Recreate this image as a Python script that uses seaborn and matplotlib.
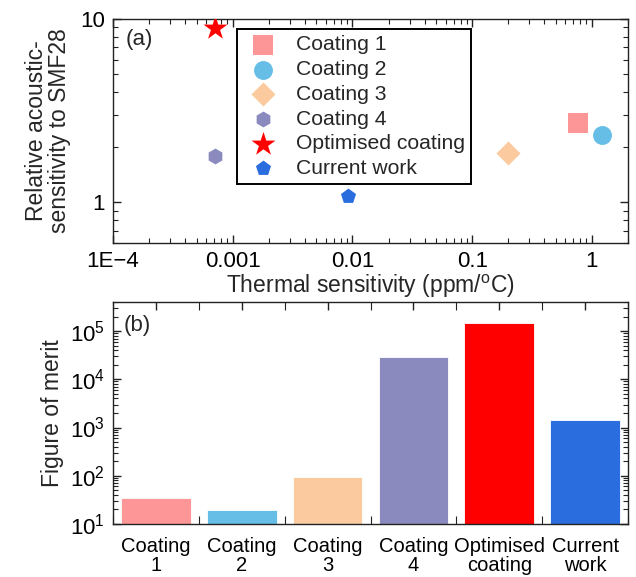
import matplotlib
matplotlib.use("Agg")
import matplotlib.pyplot as plt
import seaborn as sns
import pandas as pd
import numpy as np
from matplotlib.ticker import LogLocator, NullFormatter, FixedLocator

sns.set_theme(style="ticks")
plt.rcParams['font.family'] = ['Liberation Sans', 'DejaVu Sans']
plt.rcParams['mathtext.fontset'] = 'custom'
plt.rcParams['mathtext.rm'] = 'Liberation Sans'
plt.rcParams['mathtext.it'] = 'Liberation Sans:italic'
plt.rcParams['mathtext.default'] = 'regular'
edge = "#222222"

# ---- data ----
names = ["Coating 1", "Coating 2", "Coating 3", "Coating 4", "Optimised coating", "Current work"]
bar_labels = ["Coating\n1", "Coating\n2", "Coating\n3", "Coating\n4", "Optimised\ncoating", "Current\nwork"]
thermal = [0.76, 1.21, 0.20, 0.00071, 0.00071, 0.0091]
acoustic = [2.7, 2.32, 1.85, 1.78, 8.9, 1.08]
merit = [35, 19.5, 94, 2.9e4, 1.48e5, 1430]
colors = ["#FC9697", "#66BEE6", "#FBCB9F", "#8A8ABF", "#FF0000", "#2A6DDE"]
markers = ["s", "o", "D", "h", "*", "p"]
msizes = [190, 185, 150, 130, 330, 130]

df = pd.DataFrame({"name": names, "x": thermal, "y": acoustic, "merit": merit, "lab": bar_labels})

fig = plt.figure(figsize=(6.36, 5.77), dpi=100)
W, H = 636, 577
ax1 = fig.add_axes([113 / W, 1 - 243 / H, 515 / W, 224 / H])
ax2 = fig.add_axes([113 / W, 1 - 524 / H, 515 / W, 222 / H])

FS_LAB = 16.5
FS_TICK = 16
FS_LEG = 15.2
FS_BAR = 14.5

# ---- top scatter ----
for i, row in df.iterrows():
    sns.scatterplot(x=[row.x], y=[row.y], marker=markers[i], color=colors[i], s=msizes[i],
                    linewidth=0, label=row["name"], ax=ax1, zorder=3)
ax1.set_xscale("log")
ax1.set_yscale("log")
ax1.set_xlim(1e-4, 2)
ax1.set_ylim(0.6, 10)
ax1.xaxis.set_major_locator(FixedLocator([1e-4, 1e-3, 1e-2, 1e-1, 1]))
ax1.set_xticklabels(["1E\u22124", "0.001", "0.01", "0.1", "1"])
ax1.xaxis.set_minor_locator(LogLocator(base=10, subs=np.arange(2, 10), numticks=20))
ax1.xaxis.set_minor_formatter(NullFormatter())
ax1.yaxis.set_major_locator(FixedLocator([1, 10]))
ax1.set_yticklabels(["1", "10"])
ax1.yaxis.set_minor_locator(LogLocator(base=10, subs=np.arange(2, 10), numticks=20))
ax1.yaxis.set_minor_formatter(NullFormatter())
ax1.set_xlabel("Thermal sensitivity (ppm/$^{o}$C)", fontsize=FS_LAB, labelpad=0)
ax1.set_ylabel("Relative acoustic-\nsensitivity to SMF28", fontsize=FS_LAB, labelpad=6,
               linespacing=1.05)
ax1.text(0.025, 0.955, "(a)", transform=ax1.transAxes, fontsize=FS_TICK, va="top", ha="left")
leg = ax1.legend(loc="upper left", bbox_to_anchor=(0.24, 0.955), borderaxespad=0,
                 fancybox=False, edgecolor="black", fontsize=FS_LEG, framealpha=1,
                 handletextpad=0.6, labelspacing=0.27, borderpad=0.3, handlelength=1.9,
                 markerscale=1.0)
leg.get_frame().set_linewidth(1.4)

# ---- bottom bar ----
sns.barplot(x=bar_labels, y=merit, hue=bar_labels, palette=colors, legend=False,
            saturation=1, width=0.81, ax=ax2, edgecolor="white", linewidth=0.6)
ax2.set_yscale("log")
ax2.set_ylim(10, 4e5)
ax2.set_xlim(-0.5, 5.5)
ax2.set_xlabel("")
ax2.set_ylabel("Figure of merit", fontsize=FS_LAB, labelpad=4)
ax2.yaxis.set_major_locator(FixedLocator([1e1, 1e2, 1e3, 1e4, 1e5]))
ax2.set_yticklabels(["$10^{1}$", "$10^{2}$", "$10^{3}$", "$10^{4}$", "$10^{5}$"])
ax2.yaxis.set_minor_locator(LogLocator(base=10, subs=np.arange(2, 10), numticks=20))
ax2.yaxis.set_minor_formatter(NullFormatter())
ax2.set_xticks(range(6))
ax2.set_xticklabels(bar_labels, fontsize=FS_BAR, linespacing=1.05)
ax2.xaxis.set_minor_locator(FixedLocator(np.arange(-0.5, 6, 1.0)))
ax2.text(0.02, 0.94, "(b)", transform=ax2.transAxes, fontsize=FS_TICK, va="top", ha="left")

for ax in (ax1, ax2):
    for sp in ax.spines.values():
        sp.set_color(edge)
        sp.set_linewidth(1.0)
        sp.set_visible(True)
    ax.tick_params(which="both", direction="in", top=True, right=True, bottom=True, left=True,
                   color=edge, labelcolor="black", pad=6)
    ax.tick_params(which="major", length=6, width=1.0, labelsize=FS_TICK)
    ax.tick_params(which="minor", length=3.5, width=0.8)

# bottom plot: major x ticks only on top, minor at boundaries both sides
ax2.tick_params(axis="x", which="major", bottom=False, top=True, length=6, pad=9,
                labelsize=FS_BAR)
ax2.tick_params(axis="x", which="minor", bottom=True, top=True, length=6)

fig.savefig("out.png", dpi=100)
